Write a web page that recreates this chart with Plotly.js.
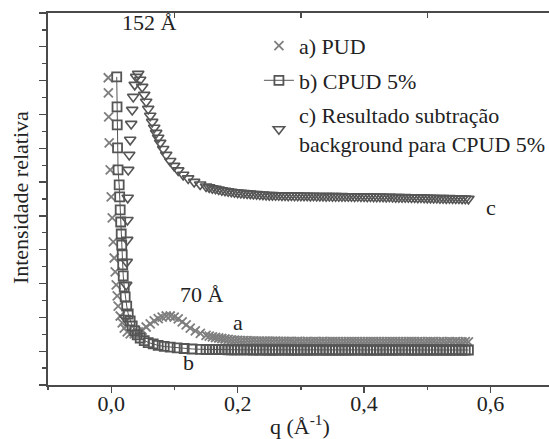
<!DOCTYPE html>
<html>
<head>
<meta charset="utf-8">
<script src="https://cdn.plot.ly/plotly-3.0.1.min.js"></script>
<style>html,body{margin:0;padding:0;background:#fff;}#chart{width:549px;height:439px;}</style>
</head>
<body>
<div id="chart"></div>
<script>
// ---- data ----
var seriesNames = ["a) PUD", "b) CPUD 5%", "c) Resultado subtração<br>background para CPUD 5%"];

var qTail = [0.155,0.16,0.165,0.17,0.175,0.18,0.185,0.19,0.195,0.2,
0.205,0.21,0.215,0.22,0.225,0.23,0.235,0.24,0.245,0.25,
0.255,0.26,0.265,0.27,0.275,0.28,0.285,0.29,0.295,0.3,
0.305,0.31,0.315,0.32,0.325,0.33,0.335,0.34,0.345,0.35,
0.355,0.36,0.365,0.37,0.375,0.38,0.385,0.39,0.395,0.4,
0.405,0.41,0.415,0.42,0.425,0.43,0.435,0.44,0.445,0.45,
0.455,0.46,0.465,0.47,0.475,0.48,0.485,0.49,0.495,0.5,
0.505,0.51,0.515,0.52,0.525,0.53,0.535,0.54,0.545,0.55,
0.555,0.56,0.565];

var aHeadQ = [-0.0047,-0.0045,-0.004,-0.0032,-0.0016,0,0.0016,0.0032,0.0047,0.0063,0.0079,0.0095,0.011,0.0142,0.0174,0.0206,0.0253,0.03,0.0364,0.0427,0.049,0.0553,0.0617,0.068,0.0743,0.0806,0.087,0.0933,0.0996,0.106,0.1123,0.1186,0.125,0.133,0.141,0.15];
var aHeadY = [18.17,17.28,15.86,14.32,12.72,11.12,9.88,8.46,7.51,6.69,5.92,5.27,4.67,4.08,3.67,3.37,3.14,3.02,3.02,3.14,3.25,3.43,3.61,3.79,3.93,4.02,4.08,4.08,4.02,3.91,3.73,3.55,3.37,3.2,3.05,2.93];
var aTailY = [2.89,2.84,2.81,2.78,2.75,2.72,2.70,2.67,2.66,2.64,
2.63,2.62,2.62,2.61,2.61,2.60,2.60,2.60,2.59,2.59,
2.59,2.59,2.58,2.58,2.58,2.58,2.58,2.57,2.58,2.57,
2.57,2.58,2.57,2.57,2.57,2.57,2.58,2.57,2.57,2.57,
2.57,2.57,2.56,2.57,2.57,2.57,2.57,2.56,2.57,2.57,
2.56,2.57,2.57,2.56,2.57,2.56,2.56,2.57,2.56,2.56,
2.56,2.56,2.57,2.56,2.56,2.56,2.56,2.56,2.55,2.56,
2.56,2.56,2.55,2.56,2.56,2.55,2.56,2.55,2.56,2.55,
2.55,2.56,2.55];

var bHeadQ = [0.0087,0.0092,0.0095,0.01,0.0108,0.0126,0.0134,0.0142,0.015,0.0158,0.0166,0.0174,0.0182,0.019,0.0206,0.0221,0.0245,0.0269,0.03,0.0332,0.0372,0.0411,0.0458,0.0522,0.0585,0.0664,0.0743,0.0838,0.0933,0.1043,0.1154,0.128,0.141,0.15];
var bHeadY = [18.22,16.45,15.38,14.02,12.72,11.83,11.12,10.36,9.64,8.93,8.28,7.69,7.10,6.45,5.80,5.21,4.67,4.20,3.79,3.49,3.20,2.96,2.78,2.63,2.51,2.43,2.34,2.28,2.24,2.19,2.16,2.13,2.11,2.10];
var bTailY = [2.10,2.10,2.09,2.09,2.09,2.09,2.08,2.08,2.08,2.08,
2.08,2.08,2.08,2.08,2.07,2.08,2.07,2.08,2.07,2.07,
2.07,2.07,2.07,2.08,2.07,2.07,2.07,2.07,2.06,2.07,
2.07,2.07,2.07,2.07,2.08,2.07,2.07,2.07,2.07,2.07,
2.06,2.07,2.07,2.07,2.07,2.07,2.07,2.08,2.07,2.07,
2.07,2.07,2.06,2.07,2.07,2.07,2.07,2.07,2.07,2.07,
2.07,2.08,2.07,2.07,2.07,2.06,2.07,2.07,2.07,2.07,
2.07,2.07,2.07,2.07,2.06,2.07,2.07,2.07,2.07,2.07,
2.07,2.06,2.07];

var cHeadQ = [0.0221,0.0237,0.0245,0.0253,0.0257,0.0261,0.0269,0.0285,0.03,0.0316,0.0332,0.0348,0.0372,0.0395,0.0427,0.0458,0.049,0.0522,0.0553,0.0585,0.0617,0.0648,0.068,0.0711,0.0743,0.0775,0.0822,0.087,0.0933,0.0996,0.106,0.1138,0.1217,0.1312,0.1407,0.15];
var cHeadY = [3.96,5.92,7.28,8.58,9.76,11.07,12.72,13.61,14.50,15.44,16.27,17.04,17.75,18.22,18.40,18.05,17.63,17.16,16.75,16.33,15.92,15.56,15.21,14.91,14.62,14.32,13.96,13.61,13.25,12.96,12.69,12.43,12.22,12.01,11.86,11.74];
var cTailY = [11.69,11.64,11.61,11.56,11.52,11.49,11.46,11.43,11.40,11.38,
11.36,11.35,11.33,11.32,11.30,11.29,11.27,11.26,11.24,11.23,
11.23,11.22,11.22,11.21,11.21,11.20,11.21,11.20,11.20,11.19,
11.19,11.19,11.18,11.19,11.18,11.18,11.18,11.17,11.18,11.17,
11.17,11.16,11.17,11.16,11.16,11.16,11.15,11.16,11.15,11.15,
11.14,11.15,11.14,11.13,11.14,11.13,11.12,11.13,11.12,11.11,
11.11,11.10,11.11,11.10,11.09,11.09,11.08,11.09,11.08,11.07,
11.07,11.06,11.06,11.05,11.05,11.04,11.05,11.04,11.03,11.03,
11.02,11.02,11.01];

var xTickVals = [0, 0.2, 0.4, 0.6];
var xTickText = ["0,0", "0,2", "0,4", "0,6"];
var topTickVals = [0.1, 0.3, 0.5];

// ---- build ----
var FONT = "Liberation Serif";
var FS = 22;
var XR = [-0.1, 0.6925];

var traces = [
  {x: aHeadQ.concat(qTail), y: aHeadY.concat(aTailY), name: seriesNames[0], mode: "markers", legendgroup: "a",
   marker: {symbol: "x-thin-open", size: 9, color: "#7e7e7e", line: {width: 1.8, color: "#7e7e7e"}}},
  {x: bHeadQ.concat(qTail), y: bHeadY.concat(bTailY), name: seriesNames[1], mode: "lines+markers", legendgroup: "b",
   line: {color: "#555", width: 1},
   marker: {symbol: "square-open", size: 9, color: "#555", line: {width: 1.8, color: "#555"}}},
  {x: cHeadQ.concat(qTail), y: cHeadY.concat(cTailY), name: seriesNames[2], mode: "markers", legendgroup: "c",
   marker: {symbol: "triangle-down-open", size: 10, color: "#555", line: {width: 1.6, color: "#555"}}},
  {x: [], y: [], xaxis: "x2", showlegend: false, hoverinfo: "skip"}
];

var axLine = "#4a4a4a";
var layout = {
  width: 549, height: 439,
  margin: {l: 48, r: 0, t: 13, b: 54, autoexpand: false},
  paper_bgcolor: "#fff", plot_bgcolor: "#fff",
  font: {family: FONT, size: FS, color: "#222"},
  showlegend: true,
  legend: {x: 0.421, y: 0.968, xanchor: "left", yanchor: "top", bgcolor: "rgba(0,0,0,0)",
           font: {family: FONT, size: FS, color: "#222"}, traceorder: "grouped", tracegroupgap: 3},
  xaxis: {range: XR, tickvals: xTickVals, ticktext: xTickText, ticks: "outside", ticklen: 6, tickwidth: 1.3,
          tickcolor: axLine, showline: true, linecolor: axLine, linewidth: 1.6, showgrid: false, zeroline: false,
          ticklabelstandoff: -8,
          tickfont: {family: FONT, size: FS, color: "#222"},
          minor: {tickvals: [-0.1, 0.1, 0.3, 0.5], ticks: "outside", ticklen: 3, tickcolor: axLine, showgrid: false}},
  xaxis2: {range: XR, overlaying: "x", side: "top", anchor: "y", tickvals: topTickVals, ticks: "inside",
           ticklen: 5, tickwidth: 1.3, tickcolor: axLine, showticklabels: false, showline: true,
           linecolor: axLine, linewidth: 1.6, showgrid: false, zeroline: false},
  yaxis: {range: [0, 22], dtick: 2, tick0: 0, ticks: "outside", ticklen: 7, tickwidth: 1.3, tickcolor: axLine,
          showticklabels: false, showline: true, linecolor: axLine, linewidth: 1.6, showgrid: false, zeroline: false,
          minor: {dtick: 1, ticks: "outside", ticklen: 4, tickcolor: axLine, showgrid: false}},
  annotations: [
    {text: "152 Å", x: 0.06, y: 21.45, xref: "x", yref: "y", showarrow: false, xanchor: "center", yanchor: "middle"},
    {text: "70 Å", x: 0.1439, y: 5.33, xref: "x", yref: "y", showarrow: false, xanchor: "center", yanchor: "middle"},
    {text: "a", x: 0.2008, y: 3.67, xref: "x", yref: "y", showarrow: false, xanchor: "center", yanchor: "middle"},
    {text: "b", x: 0.1218, y: 1.36, xref: "x", yref: "y", showarrow: false, xanchor: "center", yanchor: "middle"},
    {text: "c", x: 0.6, y: 10.5, xref: "x", yref: "y", showarrow: false, xanchor: "center", yanchor: "middle"},
    {text: "q (Å<sup>-1</sup>)", x: 0.503, y: -0.108, xref: "paper", yref: "paper", showarrow: false,
     xanchor: "center", yanchor: "middle"},
    {text: "Intensidade relativa", x: -0.056, y: 0.505, xref: "paper", yref: "paper", showarrow: false,
     textangle: -90, xanchor: "center", yanchor: "middle"}
  ]
};

Plotly.newPlot("chart", traces, layout, {staticPlot: true, displayModeBar: false});
</script>
</body>
</html>
